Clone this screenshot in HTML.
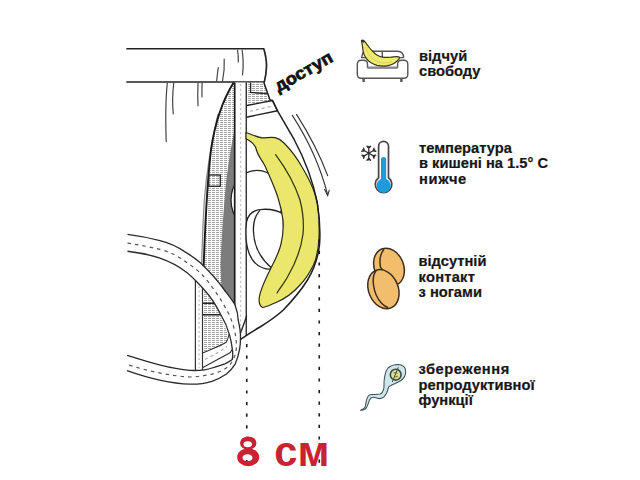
<!DOCTYPE html>
<html><head><meta charset="utf-8">
<style>
html,body{margin:0;padding:0;background:#fff;}
body{width:640px;height:480px;overflow:hidden;position:relative;font-family:"Liberation Sans",sans-serif;}
svg{position:absolute;left:0;top:0;}
</style></head><body>
<svg width="640" height="480" viewBox="0 0 640 480">
<defs>
<pattern id="h" width="4" height="2" patternUnits="userSpaceOnUse"><rect width="4" height="2" fill="#fff"/><rect width="3" height="1" fill="#a4a4a4"/></pattern>
</defs>
<!-- waistband -->
<g fill="none" stroke="#222" stroke-linecap="round" stroke-linejoin="round">
<path d="M127,48.75 H263.8 C265.6,55 266.6,61 266.5,66 C266.4,72 265.7,77 264.3,82 H127" stroke-width="1.7"/>
<g stroke="#444" stroke-width="1.2">
<path d="M216.7,80.8 Q217.3,74 218.3,67.5"/>
<path d="M222.5,80.8 Q224.8,70 224.2,59.2"/>
<path d="M237.5,50 Q238.5,55 238.3,62"/>
<path d="M242.1,50 Q244,62 242.5,75"/>
<path d="M167.3,83 Q165,105 166.2,141.6"/>
<path d="M173.7,83 Q171.8,100 173.3,113.9"/>
<path d="M198,83 Q197.5,95 198,105.7"/>
<path d="M202.1,83 Q201.8,90 202,96.9"/>
</g>
</g>
<!-- left panel -->
<path d="M233.6,82.5 C224,98 215,122 211,150 C208,175 205.5,215 203.5,270 L235,312 L235,82.5 Z" fill="url(#h)"/>
<path d="M234.6,130 C232,140 229,160 227,175 C224,200 221.5,240 220.5,265 L222,300 L235,312 L235,130 Z" fill="#7c7c7c"/>
<path d="M218,114 C212,140 206.5,172 204.3,200 C203,222 202,245 201.6,268 L204,268 C204.8,240 205.8,215 207.2,190 C208.8,168 212,140 218,114 Z" fill="#ececec"/>
<path d="M218,114 C212,140 206.5,172 204.3,200 C203,222 202,245 201.6,268" fill="none" stroke="#8c8c8c" stroke-width="1.2"/>
<path d="M233.6,82.5 C224,98 215,122 211,150 C208,175 205.5,215 203.5,270" fill="none" stroke="#1a1a1a" stroke-width="1.9"/>
<rect x="208.75" y="175" width="11.5" height="11.25" fill="none" stroke="#222" stroke-width="1.3"/>
<!-- right top hatched and band -->
<path d="M246.25,82.5 L263.75,82.5 L270,100 L272.5,100.5 L246.25,105.6 Z" fill="url(#h)"/>
<path d="M250.6,82.5 V92.5 L266.9,93.7" fill="none" stroke="#222" stroke-width="1.3"/>
<path d="M246.25,105.6 L272.5,100.5 L277.5,110.8 L246.25,117.2 Z" fill="#fff" stroke="#222" stroke-width="1.4" stroke-linejoin="round"/>
<path d="M250,111.25 L272,106.25" stroke="#aaa" stroke-width="1.2" stroke-dasharray="3 3"/>
<!-- upper testicle -->
<ellipse cx="257" cy="200" rx="26" ry="29.6" fill="#fff" stroke="#222" stroke-width="1.3"/>
<!-- strip -->
<rect x="235" y="82.5" width="11.25" height="253" fill="#fff"/>
<path d="M234.7,82.5 V312" stroke="#1a1a1a" stroke-width="1.7"/>
<path d="M246.25,82.5 V336" stroke="#222" stroke-width="1.3"/>
<path d="M240.7,84 V336" stroke="#b0b4c4" stroke-width="1" stroke-dasharray="2.2 2.6"/>
<!-- lower testicle -->
<path d="M283,214 C277,210 270,209 263,209.3 C254,209.6 248,214 246.5,222 C245.5,232 246,245 249,253 C252,261 257,266 263,268 C267,269.5 271,269.5 275,268.5 L285,260 Z" fill="#fff" stroke="#222" stroke-width="1.3"/>
<path d="M259.8,210.4 C255,216 253,225 253.5,232 C254,245 260,258 271.25,267.7" fill="none" stroke="#222" stroke-width="1.3"/>
<!-- banana -->
<path d="M246,132.5 C251,134 255,136.5 262,137.8 C266,138 270,137 275,137.6 C279,138.4 281,140 284,143 C291,150 297,158 302,167 C308,177 313,187 316,197 C318.5,207 319.5,225 319,238 C318.5,250 316.5,258 313.5,265 C310,272 306,279 300,285 C293,293 285,299 275,303 C270,305 266,307 262.5,307.5 C260,306 258.8,302 259.2,298.3 C260,290 265,280 270,270 C274,262 279,253 281,244 C283,236 283.5,228 283,220 C282,212 280,204 277.8,197 C274.5,187 270,177 265,166 C262,160 258,156 256.5,150 C255.5,146 253,142 246,138.75 Z" fill="#ebe76c" stroke="#2a2a1a" stroke-width="1.2" stroke-linejoin="round"/>
<path d="M275.6,154.7 C284,166 294,182 300,200 C303,212 304,224 303,234 C301,250 295,264 288,276 C285,282 280,288 277,293" fill="none" stroke="#3a3a14" stroke-width="1.3" stroke-linecap="round"/>
<!-- pouch outline -->
<path d="M263.75,82.3 L270,100 L272.5,100.5 L277.5,110.8 C283,120 288,129 293.75,138.75 C303,156 312,176 317.3,203 C320,220 320.5,232 319.5,245 C318,258 313.5,270 307.5,280 C300,292 292,301 283.3,310 C276,317 268,322 260,327 C253,331 247,335 240.6,339.4" fill="none" stroke="#1e1e1e" stroke-width="1.5" stroke-linejoin="round"/>
<path d="M246.7,315.5 C244.5,323 241.5,330 239.5,336" fill="none" stroke="#222" stroke-width="1.3"/>
<!-- arrows -->
<g fill="none" stroke="#333" stroke-width="1.1" stroke-linecap="round">
<path d="M292.3,115.4 C307,138 320,165 327.7,195"/>
<path d="M296.5,114.4 C309,134 320,155 327.7,175.8"/>
<path d="M324.6,189.4 L327.7,195.6 L329.2,190.4"/>
</g>
<!-- inside ring -->
<path d="M202.5,278 L206,290 C213,300 219,312 223,322 C227,333 231,340 232,349.5 L230.4,352.6 C224,356 213,362 202.5,367.7 Z" fill="url(#h)"/>
<path d="M202.5,303.3 H216 M202.5,314.8 H221" stroke="#222" stroke-width="1.4"/>
<path d="M202.5,353.1 C212,349 221,345.5 226.25,342.2 C227.5,340 228.5,337 229.2,334 L233,340 L232,349.5 L230.4,352.6 C224,356 213,362 202.5,367.7 Z" fill="#fff"/>
<path d="M202.5,353.1 C212,349 221,345.5 226.25,342.2 C227.5,340 228.5,337 229.2,334 M202.5,367.7 C213,362 224,356 230.4,352.6 L232,349.5" fill="none" stroke="#333" stroke-width="1.1"/>
<path d="M205,359.4 C213,355.5 221,351 227,346.5" fill="none" stroke="#aaa" stroke-width="1.1" stroke-dasharray="3 3"/>
<rect x="195.4" y="275" width="7.1" height="95" fill="#fff"/>
<path d="M195.4,275 V370 M202.5,275 V370" stroke="#333" stroke-width="1.2"/>
<path d="M199,277 V368" stroke="#aaa" stroke-width="1" stroke-dasharray="2 2.5"/>
<!-- ring -->
<path d="M127.5,234.4 C140,236 150,238 160,240.6 C170,243 178,247 185,251.9 C192,256 196,259 200,262.5 C208,270 218,281 224.4,290 C229,296 233,301 235,305 C237,310 238,315 238.2,320 C239.5,326 240.4,330 240.4,334.6 C240.6,340 240.4,345 239.6,349.2 C238.5,355 237,360 235.3,363.8 C232,369 229,372 226.5,374 C222,377 217,379.5 211.9,381.3 C205,383.5 197,384.3 190,384.2 C170,383.5 148,378 127,370.6 L127,355.4 C148,362 170,369 190,370.4 C200,370.8 207,370 212,368 C218,366 222,365 225,363.8 C228,362 231,361 232.3,359.4 C233,354 233,352 232.3,349.2 C231.5,343 230.5,338 229.4,334.6 C227,326 224,320 221,315 C216,305 210,296 204.4,290 C201,286 198,283 195,280 C192,277 189,274 185,271.25 C177,265 168,261 160,258.1 C150,255 139,252.5 127.5,251.25 Z" fill="#fff"/>
<g fill="none" stroke="#2a2a2a" stroke-width="1.3">
<path d="M127.5,234.4 C140,236 150,238 160,240.6 C170,243 178,247 185,251.9 C192,256 196,259 200,262.5 C208,270 218,281 224.4,290 C229,296 233,301 235,305 C237,310 238,315 238.2,320 C239.5,326 240.4,330 240.4,334.6 C240.6,340 240.4,345 239.6,349.2 C238.5,355 237,360 235.3,363.8 C232,369 229,372 226.5,374 C222,377 217,379.5 211.9,381.3 C205,383.5 197,384.3 190,384.2 C170,383.5 148,378 127,370.6"/>
<path d="M127,355.4 C148,362 170,369 190,370.4 C200,370.8 207,370 212,368 C218,366 222,365 225,363.8 C228,362 231,361 232.3,359.4 C233,354 233,352 232.3,349.2 C231.5,343 230.5,338 229.4,334.6 C227,326 224,320 221,315 C216,305 210,296 204.4,290 C201,286 198,283 195,280 C192,277 189,274 185,271.25 C177,265 168,261 160,258.1 C150,255 139,252.5 127.5,251.25"/>
</g>
<path d="M127.5,243.1 C140,245 150,247 160,249.4 C170,252 178,256 185,261.25 C190,265 195,268 200,272.5 C210,283 220,297 228.75,313.75 C233,323 236,333 236.5,345 C236.5,353 234,360 229,366 C222,372 210,376 190,377 C170,376 148,371 127,364.5" fill="none" stroke="#555" stroke-width="1.2" stroke-dasharray="3.5 4"/>
<!-- dotted measure lines -->
<path d="M246.75,344 V470" stroke="#1a1a1a" stroke-width="1.6" stroke-dasharray="3.2 8.4"/>
<path d="M319.25,239.2 V470" stroke="#1a1a1a" stroke-width="1.6" stroke-dasharray="3.2 8.4"/>
<!-- доступ -->
<text x="278.6" y="92.2" transform="rotate(-29.5 278.6 92.2)" font-family="Liberation Sans" font-weight="bold" font-size="17" textLength="63.8" lengthAdjust="spacingAndGlyphs" fill="#111" stroke="#111" stroke-width="0.7">доступ</text>
<!-- 8 см -->
<path d="M240,443 A8.25,6.6 0 1 1 256.5,443 A8.25,6.6 0 1 1 240,443 Z M237.2,457.2 A11,9 0 1 1 259.2,457.2 A11,9 0 1 1 237.2,457.2 Z M243.5,444.25 A4.25,2.9 0 1 0 252,444.25 A4.25,2.9 0 1 0 243.5,444.25 Z M242.5,457.75 A5,3.4 0 1 0 252.5,457.75 A5,3.4 0 1 0 242.5,457.75 Z" fill="#c92232"/>
<text x="274.3" y="465.6" font-family="Liberation Sans" font-weight="bold" font-size="41.6" fill="#c92232">с</text>
<text x="0" y="465.6" transform="translate(297.6 0) scale(1.04 1)" font-family="Liberation Sans" font-weight="bold" font-size="41.6" fill="#c92232">м</text>
<!-- sofa icon -->
<g fill="none" stroke="#555" stroke-width="1.4" stroke-linejoin="round">
<path d="M361.6,57.6 L362.8,53 Q363.3,51.2 365,51.2 H397.5 Q403.6,51.4 403.6,57.6 Z" fill="#fff"/>
<path d="M382.3,51.2 V57"/>
<path d="M367.5,67.5 V64.2 Q367.5,60.2 363.5,60.2 H361.3 Q357.3,60.2 357.3,64.2 V74.3 Q357.3,78.3 361.3,78.3 H403.8 Q407.8,78.3 407.8,74.3 V64.2 Q407.8,60.2 403.8,60.2 H401.6 Q397.6,60.2 397.6,64.2 V67.5 Z" fill="#fff"/>
<path d="M367.5,67.8 H397.6" stroke="#888" stroke-width="2"/>
<path d="M363.6,78.5 V82 M401.4,78.5 V82" stroke-width="2.4"/>
</g>
<path d="M361.5,40.6 C362.5,40 364,40.5 364.6,41.5 C366,43 367,44.5 368.3,46.2 C370,48.5 371,50 372.6,51.2 C374,53 375.5,54.2 376.9,55.1 C378.5,56.2 380,56.8 382.3,57.1 C385,57.4 387.5,57.4 390.2,57.25 C392.5,57.1 394.5,56.8 396.4,56.7 C398,56.6 399.5,57 399.5,57.9 C399,59.5 398,60.3 397.2,61 C395.5,62.5 393.5,63.8 391.7,64.5 C389.5,65.4 387,66 384.7,66.1 C382,66.2 379.5,65.9 376.9,65.3 C374.5,64.6 372.5,63.8 370.6,62.6 C368.5,61.2 367,59.6 365.9,57.9 C364.5,55.8 363.6,53.7 363.2,51.6 C362.8,49.5 362.6,47.5 362.4,45.4 C362.2,44 361.6,42.5 361.5,40.6 Z" fill="#efea72" stroke="#3a3520" stroke-width="1.2" stroke-linejoin="round"/>
<path d="M365.5,47 C367,53 371,58.5 377,61.5 C382,63.5 388,63.3 392,61.5" fill="none" stroke="#d6cf5c" stroke-width="0.9"/>
<path d="M361.3,40.8 L364.3,41.8" stroke="#333" stroke-width="2"/>
<!-- thermometer -->
<path d="M378.6,177.7 V146.25 A4.95,4.95 0 0 1 388.5,146.25 V177.7 A8.3,8.3 0 1 1 378.6,177.7 Z" fill="#fff" stroke="#464646" stroke-width="1.7"/>
<path d="M381,179 V159.5 A2.6,2.6 0 0 1 386.2,159.5 V179 A7.2,7.2 0 1 1 381,179 Z" fill="#1e9bdc"/>
<!-- snowflake -->
<g stroke="#2a2a2a" stroke-width="1.3" stroke-linecap="round" fill="none" transform="translate(368.8 153.2)">
<g id="arm"><path d="M0,0 V-6.8 M-1.8,-7 L0,-5 L1.8,-7"/></g>
<use href="#arm" transform="rotate(60)"/><use href="#arm" transform="rotate(120)"/><use href="#arm" transform="rotate(180)"/><use href="#arm" transform="rotate(240)"/><use href="#arm" transform="rotate(300)"/>
</g>
<!-- eggs -->
<g stroke="#3d2e1e" stroke-width="1.5" fill="#f3bd6e">
<ellipse cx="389" cy="267" rx="14.6" ry="19.4" transform="rotate(-22 389 267)"/>
<path d="M384,249.2 C380,254 379.3,260 380.4,266.7 C381,268.5 382,269.5 383.2,270.2" fill="none"/>
<ellipse cx="383.4" cy="289.2" rx="14.8" ry="20.2" transform="rotate(-22 383.4 289.2)"/>
<path d="M376.2,270.2 C373.5,274 372.8,280 373.5,285 C374.5,293 377.5,299 381.8,303.5 C384,305.8 386,307 388.2,307.7" fill="none"/>
</g>
<!-- sperm -->
<path d="M384,387.3 C383.8,380 384.6,372 388,368 C391.5,365 395,364.5 398,364.5 C402,364.7 405.5,366.5 405.7,371 C405.8,375 404,378.5 401,380.5 C398,382.5 394,384 391,385.5 C389.5,386 388.6,386.5 388.4,387.5 C388,390 387,393.8 383.7,397.2 C381.8,398.6 380,398.6 379,398.6 C376.5,397.9 374.5,397.2 373.2,397.3 C371,397.4 369.8,399 369.2,400.8 C368.5,403 367.6,405.8 366.3,408 C365.2,409.8 363,410.3 360.5,410.2 C362.5,409.6 364.2,408.8 364.9,407.6 C365.7,405 366,402 366.7,399.6 C367.5,396.8 368.5,395 370.3,394.8 C373,394.5 377,394.6 380,394.1 C382,393.6 383.2,391.5 384,387.3 Z" fill="#cfe6eb" stroke="#3e5058" stroke-width="1.05" stroke-linejoin="round"/>
<circle cx="395.7" cy="374.7" r="5.4" fill="#e2df98" stroke="#3b4a3a" stroke-width="1.6"/>
<path d="M398.3,367.3 L392.3,382" stroke="#3b4a3a" stroke-width="1"/>
<path d="M393.5,373 Q395.7,371.5 397.5,373.5 M394,376 Q395.7,378 398,376" stroke="#556030" stroke-width="0.9" fill="none"/>
<!-- right texts -->
<g font-family="Liberation Sans" font-weight="bold" font-size="14.7" fill="#161616" stroke="#161616" stroke-width="0.2">
<text x="419" y="61.2">відчуй</text>
<text x="419" y="76.2">свободу</text>
<text x="419" y="152.5">температура</text>
<text x="419" y="167.5">в кишені на 1.5° С</text>
<text x="419" y="183.5" letter-spacing="0.65">нижче</text>
<text x="418.5" y="266">відсутній</text>
<text x="418.5" y="282" letter-spacing="0.25">контакт</text>
<text x="418.5" y="297.25">з ногами</text>
<text x="418.5" y="373.5" letter-spacing="0.55">збереження</text>
<text x="418.5" y="389.5">репродуктивної</text>
<text x="418.5" y="404.7">функції</text>
</g>
</svg>
</body></html>
